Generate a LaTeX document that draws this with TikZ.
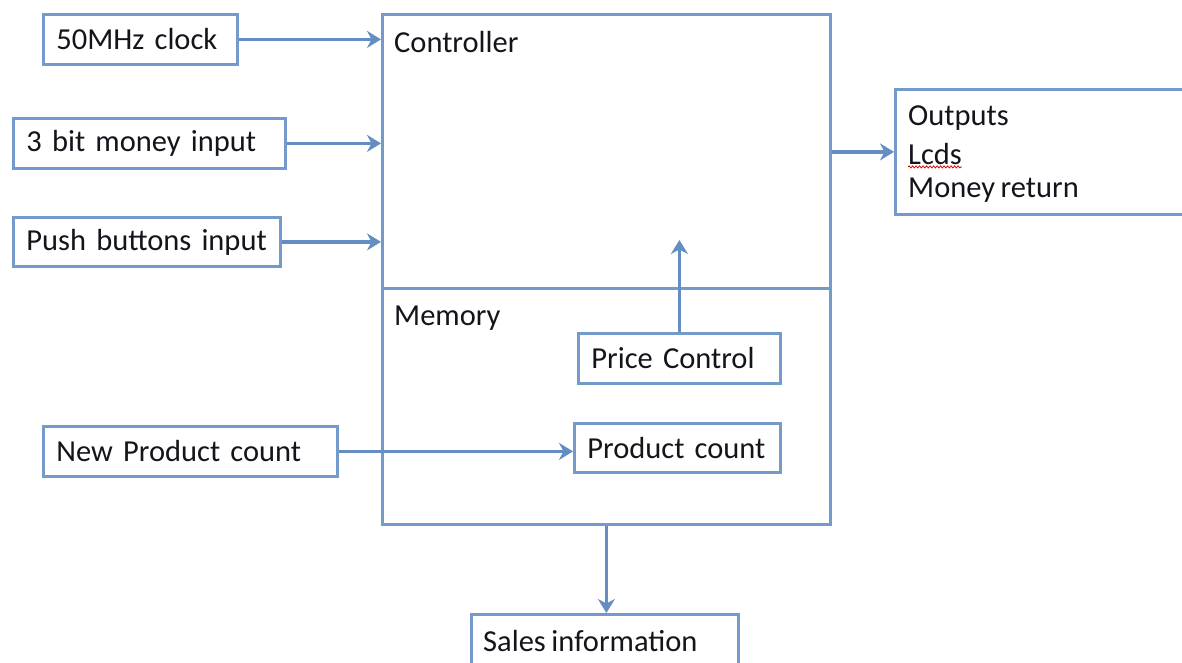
\documentclass[tikz,border=0pt]{standalone}
\usepackage{fontspec}
\setmainfont{Carlito}[WordSpace=0.8]
\usetikzlibrary{arrows.meta,decorations.pathmorphing}
\definecolor{boxline}{RGB}{115,154,203}
\definecolor{arrline}{RGB}{100,142,194}
\definecolor{txt}{RGB}{20,20,28}
\tikzset{
  box/.style={draw=boxline, line width=2.8pt, fill=white, anchor=north west,
    inner xsep=13pt, inner ysep=0pt, align=left, text=txt,
    font=\fontsize{30.5}{36}\selectfont},
  plain/.style={anchor=west, inner sep=0pt, text=txt, font=\fontsize{30.5}{36}\selectfont},
  arr/.style={draw=arrline, line width=3.4pt,
    -{Stealth[length=14pt,width=17pt,inset=4.5pt]}},
}
\begin{document}
\begin{tikzpicture}[x=1pt,y=-1pt]
\useasboundingbox (0,0) rectangle (1182,663);
\clip (0,0) rectangle (1182,663);

% main block: controller above, memory below
\node[box, minimum width=448pt, minimum height=274pt] (ctrl) at (381,13) {};
\node[box, minimum width=448pt, minimum height=236pt] (mem) at (381,287) {};
\node[plain] (ctrllbl) at (394,42) {Controller};
\node[plain] (memlbl) at (394,318) {Memory};

% inputs
\node[box, text width=168pt, minimum height=50pt] (clock) at (42,13) {50MHz clock};
\node[box, text width=246pt, minimum height=50pt] (money) at (12,117) {3 bit money input};
\node[box, text width=241pt, minimum height=49pt] (push) at (12,216) {Push buttons input};
\node[box, text width=268pt, minimum height=50pt] (newprod) at (42,425) {New Product count};

% memory contents
\node[box, text width=176pt, minimum height=50pt] (price) at (577,332) {Price Control};
\node[box, text width=180pt, minimum height=49pt] (prod) at (573,422) {Product count};

% outputs
\node[box, text width=300pt, minimum height=125pt] (out) at (894,88) {};
\node[plain] (outlbl) at (908,118) {Outputs};
\node[plain] (lcds) at (908,154) {Lcds};
\node[plain] (ret) at (908,190) {Money return};
\draw[red!85!black, line width=0.8pt, decorate,
  decoration={snake, amplitude=1pt, segment length=3.5pt}]
  ([yshift=-2pt]lcds.south west) -- ([yshift=-2pt]lcds.south east);

\node[box, text width=241pt, minimum height=60pt] (sales) at (470,613) {};
\node[plain] (saleslbl) at (483,641) {Sales information};

% connectors
\coordinate (pricetip) at (price.north |- 0,240);
\draw[arr] (clock.east) -- (clock.east -| ctrl.west);
\draw[arr] (money.east) -- (money.east -| ctrl.west);
\draw[arr] (push.east) -- (push.east -| ctrl.west);
\draw[arr] (ctrl.east |- out.west) -- (out.west);
\draw[arr] (price.north) -- (pricetip);
\draw[arr] (newprod.east) -- (newprod.east -| prod.west);
\draw[arr] (mem.south) -- (mem.south |- sales.north);
\end{tikzpicture}
\end{document}
